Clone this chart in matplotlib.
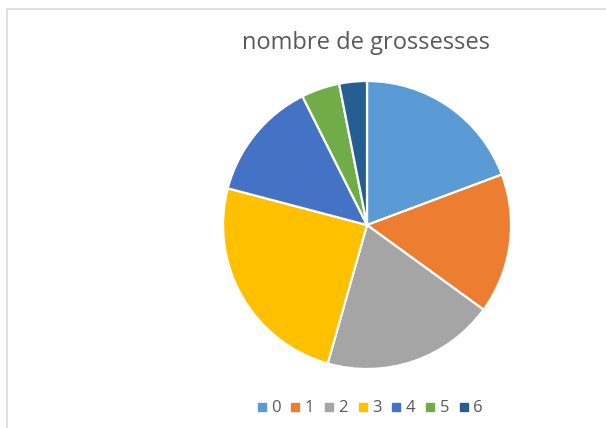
import matplotlib
matplotlib.use("Agg")
import matplotlib.pyplot as plt
from matplotlib.lines import Line2D
from matplotlib.patches import Rectangle

categories = ["0", "1", "2", "3", "4", "5", "6"]
values = [19.3, 15.7, 19.4, 24.7, 13.5, 4.3, 3.1]
colors = ["#5B9BD5", "#ED7D31", "#A5A5A5", "#FFC000", "#4472C4", "#70AD47", "#255E91"]
title = "nombre de grossesses"

W, H = 606, 428
fig = plt.figure(figsize=(W / 100, H / 100), dpi=100)
fig.patch.set_facecolor("white")

# chart frame
fig.add_artist(Rectangle((7 / W, -0.1), 1.2, 1 - 9 / H + 0.1, transform=fig.transFigure,
                         fill=False, edgecolor="#D9D9D9", linewidth=1.2))

cx, cy, r = 367, 225, 144
ax = fig.add_axes([(cx - r) / W, 1 - (cy + r) / H, 2 * r / W, 2 * r / H])
ax.pie(values, colors=colors, startangle=90, counterclock=False, radius=1,
       wedgeprops=dict(edgecolor="white", linewidth=1.6))
ax.set_xlim(-1.0, 1.0)
ax.set_ylim(-1.0, 1.0)
ax.set_aspect("equal")
ax.axis("off")

fig.text(366 / W, 1 - 43 / H, title, ha="center", va="center",
         fontsize=17, color="#595959", family="Open Sans")

handles = [Line2D([], [], marker="s", linestyle="none", markersize=5.5,
                  markerfacecolor=c, markeredgecolor=c) for c in colors]
leg = fig.legend(handles, categories, loc="center", bbox_to_anchor=(370 / W, 1 - 408.5 / H),
                 ncol=7, frameon=False, handlelength=0.55, handletextpad=0.3,
                 columnspacing=0.6, prop=dict(family="Open Sans", size=12))
for t in leg.get_texts():
    t.set_color("#595959")

fig.savefig("out.png", dpi=100, facecolor="white")
